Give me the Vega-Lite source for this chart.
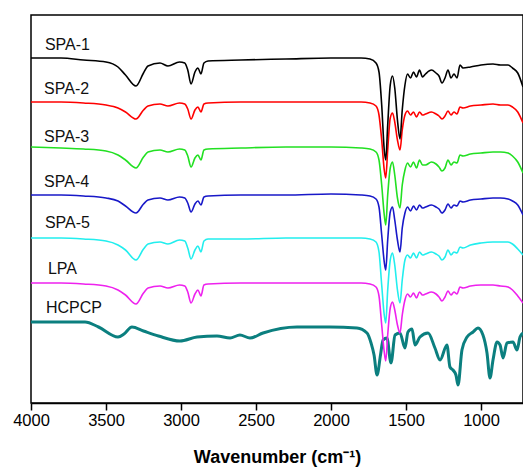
{
  "$schema": "https://vega.github.io/schema/vega-lite/v6.json",
  "width": 492,
  "height": 388,
  "autosize": "none",
  "padding": {"left": 31, "top": 15, "right": 0, "bottom": 65},
  "config": {
    "view": {"stroke": "#000000", "strokeWidth": 1.5},
    "font": "Liberation Sans"
  },
  "datasets": {
    "spa": [
      {"wn":4000,"SPA-1":345,"SPA-2":301,"SPA-3":256,"SPA-4":208,"SPA-5":165,"LPA":120},
      {"wn":3800,"SPA-1":345,"SPA-2":301,"SPA-3":255,"SPA-4":208,"SPA-5":165,"LPA":120},
      {"wn":3650,"SPA-1":343,"SPA-2":300,"SPA-3":254,"SPA-4":207,"SPA-5":164,"LPA":119},
      {"wn":3500,"SPA-1":341,"SPA-2":298,"SPA-3":252,"SPA-4":205,"SPA-5":162,"LPA":117},
      {"wn":3420,"SPA-1":336,"SPA-2":295,"SPA-3":248,"SPA-4":202,"SPA-5":158,"LPA":113},
      {"wn":3370,"SPA-1":328,"SPA-2":291,"SPA-3":243,"SPA-4":197,"SPA-5":153,"LPA":108},
      {"wn":3300,"SPA-1":317,"SPA-2":284,"SPA-3":235,"SPA-4":190,"SPA-5":143,"LPA":99},
      {"wn":3250,"SPA-1":330,"SPA-2":293,"SPA-3":246,"SPA-4":199,"SPA-5":154,"LPA":110},
      {"wn":3220,"SPA-1":337,"SPA-2":297,"SPA-3":251,"SPA-4":203,"SPA-5":159,"LPA":115},
      {"wn":3140,"SPA-1":340,"SPA-2":299,"SPA-3":253,"SPA-4":205,"SPA-5":161,"LPA":117},
      {"wn":3087,"SPA-1":337,"SPA-2":297,"SPA-3":251,"SPA-4":203,"SPA-5":159,"LPA":115},
      {"wn":3010,"SPA-1":341,"SPA-2":300,"SPA-3":254,"SPA-4":206,"SPA-5":163,"LPA":118},
      {"wn":2975,"SPA-1":340,"SPA-2":299,"SPA-3":253,"SPA-4":205,"SPA-5":162,"LPA":117},
      {"wn":2955,"SPA-1":333,"SPA-2":294,"SPA-3":247,"SPA-4":200,"SPA-5":155,"LPA":111},
      {"wn":2933,"SPA-1":319,"SPA-2":284,"SPA-3":236,"SPA-4":191,"SPA-5":144,"LPA":100},
      {"wn":2907,"SPA-1":331,"SPA-2":293,"SPA-3":245,"SPA-4":199,"SPA-5":153,"LPA":109},
      {"wn":2887,"SPA-1":335,"SPA-2":296,"SPA-3":248,"SPA-4":202,"SPA-5":157,"LPA":113},
      {"wn":2867,"SPA-1":329,"SPA-2":291,"SPA-3":243,"SPA-4":198,"SPA-5":151,"LPA":107},
      {"wn":2847,"SPA-1":340,"SPA-2":299,"SPA-3":253,"SPA-4":206,"SPA-5":162,"LPA":118},
      {"wn":2820,"SPA-1":342,"SPA-2":300,"SPA-3":254,"SPA-4":207,"SPA-5":164,"LPA":119},
      {"wn":2600,"SPA-1":343,"SPA-2":301,"SPA-3":255,"SPA-4":208,"SPA-5":164,"LPA":120},
      {"wn":2300,"SPA-1":344,"SPA-2":301,"SPA-3":256,"SPA-4":208,"SPA-5":165,"LPA":120},
      {"wn":2000,"SPA-1":345,"SPA-2":301,"SPA-3":256,"SPA-4":209,"SPA-5":165,"LPA":120},
      {"wn":1800,"SPA-1":345,"SPA-2":301,"SPA-3":255,"SPA-4":208,"SPA-5":165,"LPA":120},
      {"wn":1740,"SPA-1":344,"SPA-2":300,"SPA-3":254,"SPA-4":207,"SPA-5":164,"LPA":119},
      {"wn":1700,"SPA-1":340,"SPA-2":297,"SPA-3":251,"SPA-4":204,"SPA-5":161,"LPA":116},
      {"wn":1680,"SPA-1":331,"SPA-2":288,"SPA-3":243,"SPA-4":196,"SPA-5":151,"LPA":107},
      {"wn":1662,"SPA-1":298,"SPA-2":263,"SPA-3":218,"SPA-4":168,"SPA-5":118,"LPA":78},
      {"wn":1645,"SPA-1":253,"SPA-2":233,"SPA-3":188,"SPA-4":141,"SPA-5":88,"LPA":51},
      {"wn":1635,"SPA-1":243,"SPA-2":225,"SPA-3":178,"SPA-4":133,"SPA-5":80,"LPA":42},
      {"wn":1622,"SPA-1":278,"SPA-2":253,"SPA-3":208,"SPA-4":163,"SPA-5":113,"LPA":68},
      {"wn":1605,"SPA-1":318,"SPA-2":285,"SPA-3":235,"SPA-4":191,"SPA-5":143,"LPA":95},
      {"wn":1590,"SPA-1":327,"SPA-2":290,"SPA-3":241,"SPA-4":196,"SPA-5":150,"LPA":101},
      {"wn":1575,"SPA-1":315,"SPA-2":281,"SPA-3":228,"SPA-4":183,"SPA-5":138,"LPA":93},
      {"wn":1557,"SPA-1":283,"SPA-2":263,"SPA-3":205,"SPA-4":163,"SPA-5":113,"LPA":78},
      {"wn":1540,"SPA-1":264,"SPA-2":253,"SPA-3":195,"SPA-4":151,"SPA-5":100,"LPA":70},
      {"wn":1525,"SPA-1":293,"SPA-2":273,"SPA-3":218,"SPA-4":175,"SPA-5":123,"LPA":88},
      {"wn":1507,"SPA-1":318,"SPA-2":288,"SPA-3":233,"SPA-4":190,"SPA-5":143,"LPA":103},
      {"wn":1490,"SPA-1":329,"SPA-2":292,"SPA-3":240,"SPA-4":196,"SPA-5":148,"LPA":109},
      {"wn":1470,"SPA-1":325,"SPA-2":288,"SPA-3":236,"SPA-4":192,"SPA-5":145,"LPA":106},
      {"wn":1450,"SPA-1":331,"SPA-2":291,"SPA-3":241,"SPA-4":197,"SPA-5":150,"LPA":110},
      {"wn":1430,"SPA-1":326,"SPA-2":286,"SPA-3":235,"SPA-4":193,"SPA-5":145,"LPA":105},
      {"wn":1410,"SPA-1":333,"SPA-2":291,"SPA-3":243,"SPA-4":198,"SPA-5":151,"LPA":111},
      {"wn":1390,"SPA-1":326,"SPA-2":288,"SPA-3":238,"SPA-4":195,"SPA-5":148,"LPA":108},
      {"wn":1370,"SPA-1":329,"SPA-2":289,"SPA-3":238,"SPA-4":196,"SPA-5":149,"LPA":109},
      {"wn":1330,"SPA-1":333,"SPA-2":291,"SPA-3":241,"SPA-4":198,"SPA-5":151,"LPA":111},
      {"wn":1300,"SPA-1":330,"SPA-2":289,"SPA-3":239,"SPA-4":196,"SPA-5":149,"LPA":109},
      {"wn":1280,"SPA-1":327,"SPA-2":287,"SPA-3":236,"SPA-4":194,"SPA-5":147,"LPA":106},
      {"wn":1260,"SPA-1":320,"SPA-2":284,"SPA-3":232,"SPA-4":190,"SPA-5":143,"LPA":102},
      {"wn":1240,"SPA-1":325,"SPA-2":287,"SPA-3":235,"SPA-4":193,"SPA-5":146,"LPA":106},
      {"wn":1220,"SPA-1":333,"SPA-2":292,"SPA-3":243,"SPA-4":199,"SPA-5":153,"LPA":112},
      {"wn":1200,"SPA-1":325,"SPA-2":288,"SPA-3":238,"SPA-4":195,"SPA-5":148,"LPA":108},
      {"wn":1180,"SPA-1":329,"SPA-2":291,"SPA-3":241,"SPA-4":198,"SPA-5":151,"LPA":111},
      {"wn":1160,"SPA-1":325,"SPA-2":289,"SPA-3":240,"SPA-4":197,"SPA-5":150,"LPA":109},
      {"wn":1140,"SPA-1":338,"SPA-2":296,"SPA-3":248,"SPA-4":202,"SPA-5":156,"LPA":116},
      {"wn":1120,"SPA-1":335,"SPA-2":295,"SPA-3":247,"SPA-4":201,"SPA-5":155,"LPA":115},
      {"wn":1070,"SPA-1":336,"SPA-2":297,"SPA-3":249,"SPA-4":203,"SPA-5":158,"LPA":117},
      {"wn":1000,"SPA-1":338,"SPA-2":298,"SPA-3":250,"SPA-4":204,"SPA-5":160,"LPA":118},
      {"wn":920,"SPA-1":339,"SPA-2":299,"SPA-3":251,"SPA-4":205,"SPA-5":161,"LPA":118},
      {"wn":870,"SPA-1":338,"SPA-2":298,"SPA-3":251,"SPA-4":205,"SPA-5":161,"LPA":117},
      {"wn":820,"SPA-1":338,"SPA-2":298,"SPA-3":250,"SPA-4":204,"SPA-5":161,"LPA":116},
      {"wn":790,"SPA-1":335,"SPA-2":296,"SPA-3":247,"SPA-4":202,"SPA-5":159,"LPA":113},
      {"wn":755,"SPA-1":330,"SPA-2":291,"SPA-3":241,"SPA-4":198,"SPA-5":154,"LPA":107},
      {"wn":720,"SPA-1":316,"SPA-2":280,"SPA-3":230,"SPA-4":188,"SPA-5":148,"LPA":100}
    ],
    "hcpcp": [
      {"wn":4000,"t":81},{"wn":3640,"t":81},{"wn":3550,"t":76},{"wn":3420,"t":66},
      {"wn":3380,"t":69},{"wn":3327,"t":76},{"wn":3250,"t":72},{"wn":3150,"t":67},
      {"wn":3007,"t":62},{"wn":2893,"t":66},{"wn":2760,"t":67},{"wn":2673,"t":65},
      {"wn":2607,"t":68},{"wn":2540,"t":65},{"wn":2453,"t":70},{"wn":2227,"t":76},
      {"wn":2007,"t":76},{"wn":1827,"t":75},{"wn":1760,"t":70},{"wn":1733,"t":60},
      {"wn":1713,"t":48},{"wn":1693,"t":28},{"wn":1670,"t":48},{"wn":1653,"t":63},
      {"wn":1627,"t":65},{"wn":1600,"t":40},{"wn":1573,"t":68},{"wn":1540,"t":70},
      {"wn":1507,"t":55},{"wn":1487,"t":71},{"wn":1460,"t":74},{"wn":1440,"t":58},
      {"wn":1407,"t":66},{"wn":1353,"t":70},{"wn":1307,"t":55},{"wn":1273,"t":43},
      {"wn":1227,"t":58},{"wn":1207,"t":36},{"wn":1187,"t":33},{"wn":1167,"t":28},
      {"wn":1153,"t":18},{"wn":1127,"t":53},{"wn":1093,"t":66},{"wn":1053,"t":71},
      {"wn":1020,"t":75},{"wn":987,"t":68},{"wn":960,"t":50},{"wn":940,"t":25},
      {"wn":920,"t":43},{"wn":893,"t":61},{"wn":873,"t":58},{"wn":853,"t":45},
      {"wn":827,"t":60},{"wn":787,"t":61},{"wn":760,"t":53},{"wn":740,"t":66},
      {"wn":720,"t":70}
    ],
    "labels": [
      {"label":"SPA-1","wn":3907,"t":358},
      {"label":"SPA-2","wn":3913,"t":314},
      {"label":"SPA-3","wn":3913,"t":266},
      {"label":"SPA-4","wn":3913,"t":221},
      {"label":"SPA-5","wn":3907,"t":180},
      {"label":"LPA","wn":3887,"t":134},
      {"label":"HCPCP","wn":3900,"t":95}
    ]
  },
  "layer": [
    {
      "data": {"name": "hcpcp"},
      "mark": {"type": "line", "color": "#0b7f7f", "strokeWidth": 3, "clip": true, "interpolate": "monotone"},
      "encoding": {
        "x": {"field": "wn", "type": "quantitative",
          "scale": {"domain": [4000, 720], "nice": false, "zero": false},
          "axis": {
            "values": [4000,3750,3500,3250,3000,2750,2500,2250,2000,1750,1500,1250,1000,750],
            "labelExpr": "datum.value % 500 === 0 ? datum.value : ''",
            "grid": false,
            "domainColor": "#000000", "domainWidth": 1.5,
            "tickColor": "#000000", "tickWidth": 1.5,
            "tickSize": {"condition": {"test": "datum.value % 500 === 0", "value": 7}, "value": 4},
            "labelFontSize": 16.5, "labelColor": "#000000", "labelPadding": 2,
            "labelFlush": false, "labelOverlap": false,
            "title": "Wavenumber (cm⁻¹)", "titleFontSize": 18, "titleFontWeight": "bold",
            "titleColor": "#000000", "titlePadding": 20
          }
        },
        "y": {"field": "t", "type": "quantitative", "scale": {"domain": [0, 388], "nice": false, "zero": false}, "axis": null}
      }
    },
    {
      "data": {"name": "spa"},
      "transform": [
        {"fold": ["LPA", "SPA-5", "SPA-4", "SPA-3", "SPA-2", "SPA-1"], "as": ["sample", "t"]}
      ],
      "mark": {"type": "line", "strokeWidth": 1.6, "clip": true, "interpolate": "monotone"},
      "encoding": {
        "x": {"field": "wn", "type": "quantitative"},
        "y": {"field": "t", "type": "quantitative"},
        "color": {"field": "sample", "type": "nominal",
          "scale": {"domain": ["SPA-1","SPA-2","SPA-3","SPA-4","SPA-5","LPA"],
                    "range": ["#000000","#ff0000","#22e022","#1818c8","#22eeee","#ee22ee"]},
          "legend": null}
      }
    },
    {
      "data": {"name": "labels"},
      "mark": {"type": "text", "align": "left", "baseline": "middle", "fontSize": 16, "color": "#111111"},
      "encoding": {
        "x": {"field": "wn", "type": "quantitative"},
        "y": {"field": "t", "type": "quantitative"},
        "text": {"field": "label"}
      }
    }
  ]
}
